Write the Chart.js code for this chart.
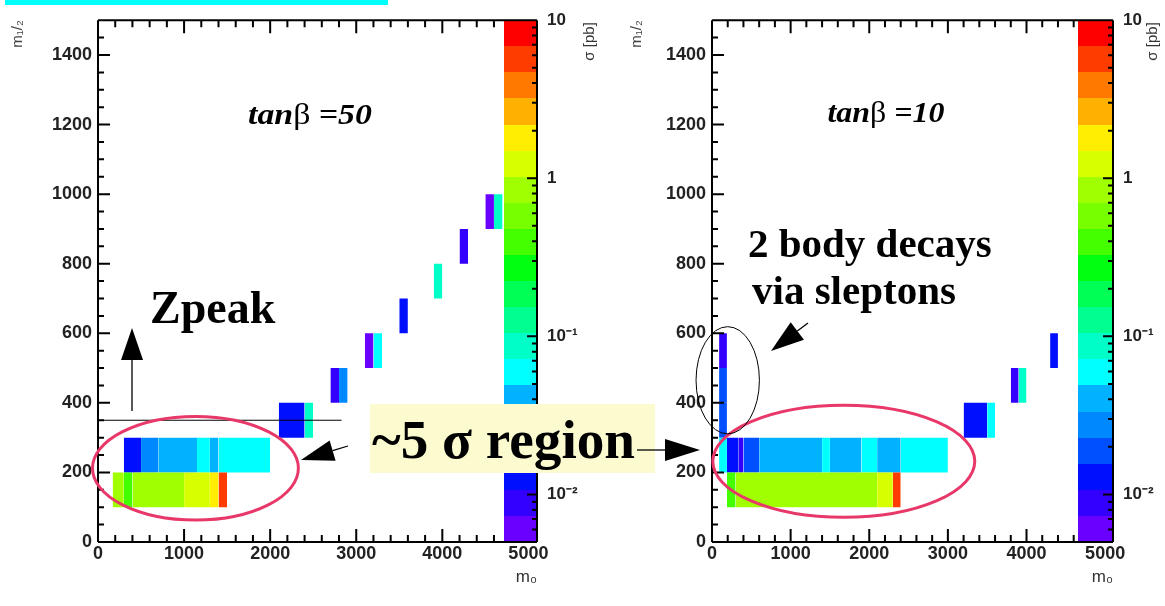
<!DOCTYPE html>
<html>
<head>
<meta charset="utf-8">
<script src="https://cdn.jsdelivr.net/npm/chart.js@4.4.1/dist/chart.umd.min.js"></script>
<style>
  html, body { margin: 0; padding: 0; background: #fff; }
  #wrap { position: relative; width: 1165px; height: 606px; overflow: hidden; }
  #wrap canvas, #wrap svg { position: absolute; left: 0; top: 0; }
</style>
</head>
<body>
<div id="wrap">
  <canvas id="tan50" width="1165" height="606"></canvas>
  <canvas id="tan10" width="1165" height="606"></canvas>
  <svg id="notes" width="1165" height="606" font-family="'Liberation Serif', 'Times New Roman', serif" font-weight="bold">
    <rect x="5" y="0" width="383" height="5" fill="#00ffff"/>
    <text x="310" y="124" font-size="30" text-anchor="middle" textLength="124" lengthAdjust="spacingAndGlyphs"><tspan font-style="italic">tan</tspan><tspan font-weight="normal">β</tspan><tspan font-style="italic"> =50</tspan></text>
    <text x="886" y="122" font-size="30" text-anchor="middle" textLength="117" lengthAdjust="spacingAndGlyphs"><tspan font-style="italic">tan</tspan><tspan font-weight="normal">β</tspan><tspan font-style="italic"> =10</tspan></text>
    <text x="150" y="323" font-size="46">Zpeak</text>
    <text x="748" y="257" font-size="41">2 body decays</text>
    <text x="752" y="304" font-size="41">via sleptons</text>
    <rect x="370" y="404" width="285" height="69" fill="#fcfbd0"/>
    <text x="372" y="458" font-size="54" textLength="263" lengthAdjust="spacingAndGlyphs">~5 σ region</text>
  </svg>
</div>
<script>
// axis ticks
const m0Ticks = [0, 1000, 2000, 3000, 4000, 5000];
const m12Ticks = [0, 200, 400, 600, 800, 1000, 1200, 1400];
const sigmaTicks = [0.01, 0.1, 1, 10];
const sigmaLabels = ['10⁻²', '10⁻¹', '1', '10'];

// colour scale: 20 levels, log from 0.005 to 10 pb
const SIGMA_MIN = 0.005;
const SIGMA_MAX = 10;
const palette = ['#6a00ff', '#3300ff', '#0010ff', '#0050ff', '#0088ff', '#00b2ff', '#00ffff', '#00ffc8', '#00ff90', '#00ff55',
                 '#00ff10', '#44ff00', '#77ff00', '#a0ff00', '#d8ff00', '#ffee00', '#ffb000', '#ff7800', '#ff3c00', '#ff0000'];

// every m1/2 bin is 100 GeV tall
const M12_BIN = 100;

// tan(beta) = 50 : m0 from/to, m1/2 bin start, sigma [pb]
const tan50_m0Lo  = [170, 300, 400, 1000, 1300, 1400,  300, 500, 700, 1150, 1300, 1400,  2100, 2400,  2700, 2800,  3100, 3200,  3500,  3900,  4200,  4500, 4600];
const tan50_m0Hi  = [300, 400, 1000, 1300, 1400, 1500, 500, 700, 1150, 1300, 1400, 2000,  2400, 2500,  2800, 2900,  3200, 3300,  3600,  4000,  4300,  4600, 4700];
const tan50_m12   = [100, 100, 100, 100, 100, 100,    200, 200, 200, 200, 200, 200,     300, 300,    400, 400,    500, 500,    600,   700,   800,   900, 900];
const tan50_sigma = [0.85, 0.40, 0.85, 1.25, 1.8, 5.6, 0.013, 0.028, 0.040, 0.059, 0.040, 0.059, 0.013, 0.087, 0.009, 0.028, 0.006, 0.059, 0.013, 0.087, 0.009, 0.006, 0.087];

// tan(beta) = 10
const tan10_m0Lo  = [190, 300, 2100, 2300,  90, 190, 340, 400, 600, 1400, 1500, 1900, 2100, 2400,  90, 3200, 3500,  90, 3800, 3900,  90, 4300];
const tan10_m0Hi  = [300, 2100, 2300, 2400, 190, 340, 400, 600, 1400, 1500, 1900, 2100, 2400, 3000, 190, 3500, 3600, 190, 3900, 4000, 190, 4400];
const tan10_m12   = [100, 100, 100, 100,    200, 200, 200, 200, 200, 200, 200, 200, 200, 200,   300, 300, 300,   400, 400, 400,   500, 500];
const tan10_sigma = [0.40, 0.85, 1.25, 5.6, 0.059, 0.013, 0.009, 0.019, 0.040, 0.059, 0.040, 0.059, 0.040, 0.059, 0.019, 0.013, 0.059, 0.019, 0.009, 0.087, 0.009, 0.013];

Chart.defaults.font.family = "'Liberation Sans', Arial, sans-serif";

function colourFor(sigma) {
  const lmin = Math.log10(SIGMA_MIN), lmax = Math.log10(SIGMA_MAX);
  const k = Math.floor((Math.log10(sigma) - lmin) / (lmax - lmin) * palette.length);
  return palette[Math.max(0, Math.min(palette.length - 1, k))];
}

// one filled box per cell: top edge as a line, filled down to the bin start
function cellSets(lo, hi, m12, sigma) {
  return sigma.map((s, i) => ({
    data: [{ x: lo[i], y: m12[i] + M12_BIN }, { x: hi[i], y: m12[i] + M12_BIN }],
    fill: { value: m12[i] },
    backgroundColor: colourFor(s),
    borderColor: 'rgba(0,0,0,0)',
    borderWidth: 0,
    pointRadius: 0,
    yAxisID: 'y'
  }));
}

// ROOT style frame: inward ticks, colour bar, and drawn notes
const rootFrame = {
  id: 'rootFrame',
  afterDatasetsDraw(chart, args, opts) {
    const { ctx, chartArea: a, scales: { x, y, z } } = chart;
    const barLeft = a.right - opts.barWidth;
    const lmin = Math.log10(SIGMA_MIN);
    const step = (Math.log10(SIGMA_MAX) - lmin) / palette.length;

    ctx.save();
    palette.forEach((c, k) => {
      const bot = Math.round(z.getPixelForValue(10 ** (lmin + k * step)));
      const top = Math.round(z.getPixelForValue(10 ** (lmin + (k + 1) * step)));
      ctx.fillStyle = c;
      ctx.fillRect(barLeft, top, a.right - barLeft, bot - top);
    });

    ctx.strokeStyle = '#000';
    ctx.lineWidth = 2;
    ctx.beginPath();
    ctx.moveTo(a.left, a.top); ctx.lineTo(a.right, a.top);
    ctx.moveTo(a.left, a.bottom); ctx.lineTo(a.right, a.bottom);
    ctx.moveTo(a.left, a.top); ctx.lineTo(a.left, a.bottom);
    ctx.moveTo(a.right, a.top); ctx.lineTo(a.right, a.bottom);

    for (let v = 0; v <= x.max; v += 200) {
      const px = x.getPixelForValue(v);
      if (px > barLeft - 2) break;
      const len = v % 1000 === 0 ? 13 : 7;
      ctx.moveTo(px, a.bottom); ctx.lineTo(px, a.bottom - len);
      ctx.moveTo(px, a.top); ctx.lineTo(px, a.top + len);
    }
    for (let v = 0; v <= y.max; v += 50) {
      const py = y.getPixelForValue(v);
      const len = v % 200 === 0 ? 12 : 6;
      ctx.moveTo(a.left, py); ctx.lineTo(a.left + len, py);
    }
    for (let e = -3; e <= 1; e++) {
      for (let m = 1; m <= 9; m++) {
        const v = m * 10 ** e;
        if (v < SIGMA_MIN * 0.999 || v > SIGMA_MAX * 1.001) continue;
        const py = z.getPixelForValue(v);
        ctx.moveTo(a.right, py); ctx.lineTo(a.right - (m === 1 ? 10 : 5), py);
      }
    }
    ctx.stroke();

    // colour bar title, read bottom to top
    ctx.translate(a.right + opts.titleDx, a.top + 2);
    ctx.rotate(-Math.PI / 2);
    ctx.fillStyle = '#333';
    ctx.font = "15px 'Liberation Sans', Arial, sans-serif";
    ctx.textAlign = 'right';
    ctx.textBaseline = 'middle';
    ctx.fillText('σ [pb]', 0, 0);
    ctx.restore();
  },
  afterDraw(chart, args, opts) {
    const { ctx, scales: { x, y } } = chart;
    ctx.save();
    (opts.lines || []).forEach(l => {
      ctx.strokeStyle = '#000';
      ctx.lineWidth = 1;
      ctx.beginPath();
      ctx.moveTo(x.getPixelForValue(l.m0[0]), y.getPixelForValue(l.m12));
      ctx.lineTo(x.getPixelForValue(l.m0[1]), y.getPixelForValue(l.m12));
      ctx.stroke();
    });
    (opts.ellipses || []).forEach(e => {
      const cx = x.getPixelForValue(e.m0), cy = y.getPixelForValue(e.m12);
      const rx = x.getPixelForValue(e.m0 + e.rm0) - cx;
      const ry = cy - y.getPixelForValue(e.m12 + e.rm12);
      ctx.strokeStyle = e.color;
      ctx.lineWidth = e.width;
      ctx.beginPath();
      ctx.ellipse(cx, cy, rx, ry, 0, 0, 2 * Math.PI);
      ctx.stroke();
    });
    ctx.restore();
  }
};

function makePanel(id, datasets, p) {
  const tickFont = { size: 18, weight: 'bold' };
  return new Chart(document.getElementById(id), {
    type: 'line',
    data: { datasets },
    options: {
      responsive: false,
      animation: false,
      devicePixelRatio: 1,
      layout: { padding: { left: p.padLeft, right: p.padRight, top: 10, bottom: 0 } },
      plugins: {
        legend: { display: false },
        tooltip: { enabled: false },
        rootFrame: { barWidth: p.barWidth, titleDx: p.titleDx, ellipses: p.ellipses, lines: p.lines }
      },
      scales: {
        x: {
          type: 'linear', min: 0, max: 5100,
          afterFit: s => { s.height = 64; },
          afterBuildTicks: s => { s.ticks = m0Ticks.map(v => ({ value: v })); },
          grid: { display: false, drawTicks: false },
          border: { display: false },
          ticks: { font: tickFont, color: '#222', padding: 1, autoSkip: false, maxRotation: 0, callback: v => String(v) },
          title: { display: true, text: 'm₀', align: 'end', color: '#333', font: { size: 17 }, padding: { top: 0, bottom: 18 } }
        },
        y: {
          type: 'linear', min: 0, max: 1500,
          afterFit: s => { s.width = p.yWidth; },
          afterBuildTicks: s => { s.ticks = m12Ticks.map(v => ({ value: v })); },
          grid: { display: false, drawTicks: false },
          border: { display: false },
          ticks: { font: tickFont, color: '#222', padding: 6, autoSkip: false, callback: v => String(v) },
          title: { display: true, text: 'm₁/₂', align: 'end', color: '#444', font: { size: 15 }, padding: { top: p.yTitlePad, bottom: 0 } }
        },
        z: {
          type: 'logarithmic', position: 'right', min: SIGMA_MIN, max: SIGMA_MAX,
          afterFit: s => { s.width = p.zWidth; },
          afterBuildTicks: s => { s.ticks = sigmaTicks.map(v => ({ value: v })); },
          grid: { display: false, drawTicks: false },
          border: { display: false },
          ticks: { font: { size: 17, weight: 'bold' }, color: '#222', padding: 10, autoSkip: false,
                   callback: v => sigmaLabels[sigmaTicks.indexOf(v)] }
        }
      }
    },
    plugins: [rootFrame]
  });
}

makePanel('tan50', cellSets(tan50_m0Lo, tan50_m0Hi, tan50_m12, tan50_sigma), {
  padLeft: 0, padRight: 565, yWidth: 98, zWidth: 63, barWidth: 33, titleDx: 53, yTitlePad: 9,
  lines: [{ m0: [20, 2830], m12: 350 }],
  ellipses: [{ m0: 1132, m12: 212, rm0: 1196, rm12: 149, color: '#e8386a', width: 3 }]
});

makePanel('tan10', cellSets(tan10_m0Lo, tan10_m0Hi, tan10_m12, tan10_sigma), {
  padLeft: 622, padRight: 0, yWidth: 90, zWidth: 52, barWidth: 35, titleDx: 40, yTitlePad: 6,
  lines: [],
  ellipses: [
    { m0: 1676, m12: 232, rm0: 1666, rm12: 161, color: '#e8386a', width: 3 },
    { m0: 200, m12: 465, rm0: 403, rm12: 154, color: '#000', width: 1 }
  ]
});

// arrows of the slide notes
const NS = 'http://www.w3.org/2000/svg';
const notes = document.getElementById('notes');
function arrow(x1, y1, x2, y2, headLen, headW) {
  const len = Math.hypot(x2 - x1, y2 - y1);
  const ux = (x2 - x1) / len, uy = (y2 - y1) / len;
  const bx = x2 - ux * headLen, by = y2 - uy * headLen;
  const line = document.createElementNS(NS, 'line');
  line.setAttribute('x1', x1); line.setAttribute('y1', y1);
  line.setAttribute('x2', bx); line.setAttribute('y2', by);
  line.setAttribute('stroke', '#000'); line.setAttribute('stroke-width', 1.3);
  notes.appendChild(line);
  const head = document.createElementNS(NS, 'polygon');
  head.setAttribute('points', `${x2},${y2} ${bx - uy * headW / 2},${by + ux * headW / 2} ${bx + uy * headW / 2},${by - ux * headW / 2}`);
  head.setAttribute('fill', '#000');
  notes.appendChild(head);
}
arrow(132, 411, 132, 328, 32, 22);
arrow(808, 323, 771, 351, 33, 22);
arrow(348, 446, 301, 460, 33, 21);
arrow(637, 450, 700, 450, 35, 22);
</script>
</body>
</html>
